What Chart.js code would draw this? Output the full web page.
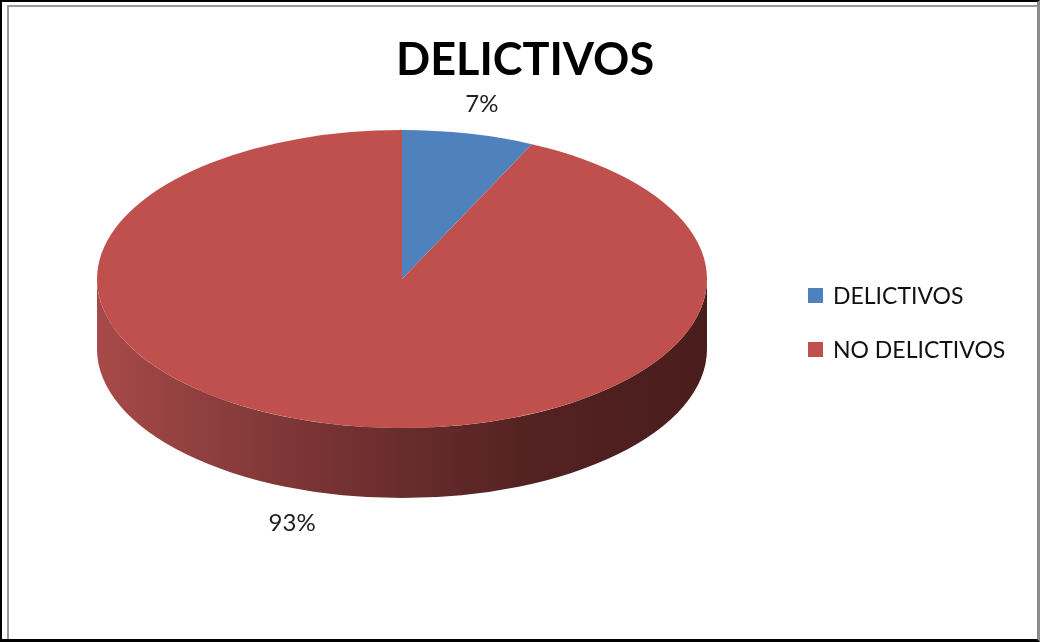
<!DOCTYPE html>
<html>
<head>
<meta charset="utf-8">
<script src="https://cdn.jsdelivr.net/npm/chart.js@4"></script>
<style>
    body { margin: 0; background: #fff; }
    #wrap { position: relative; width: 1040px; height: 642px; overflow: hidden; }
    #frame {
        position: absolute; left: 0; top: 0; width: 1040px; height: 642px;
        box-sizing: border-box; pointer-events: none;
        border-left: 2px solid #000; border-top: 2px solid #000;
        border-bottom: 3px solid #000; border-right: 3px solid #8c8c8c;
    }
    #innerFrame {
        position: absolute; left: 7px; top: 5px; right: 3px; bottom: 3px;
        pointer-events: none;
        border-left: 2px solid #9a9a9a; border-top: 2px solid #9a9a9a;
    }
</style>
</head>
<body>
<div id="wrap">
    <canvas id="pieChart" width="1040" height="642"></canvas>
    <div id="frame"></div>
    <div id="innerFrame"></div>
</div>
<script>
// Chart data
const chartTitle = 'DELICTIVOS';
const categories = ['DELICTIVOS', 'NO DELICTIVOS'];
const values = [7, 93];
const percentLabels = ['7%', '93%'];

const sliceColors = ['#4f81bd', '#c0504d'];

// Look of the fake 3D pie
const pieCenterY = 279;   // where the top face is centered on the page
const pieRadiusY = 149;   // vertical radius of the top face
const pieDepth = 70;      // thickness of the side wall

/**
 * Squashes the pie into an ellipse and draws the side wall under it
 */
const pie3dPlugin = {
    id: 'pie3d',
    beforeDatasetsDraw(chart) {
        const ctx = chart.ctx;
        const arcs = chart.getDatasetMeta(0).data;
        if (!arcs.length) return;

        const { x, y, outerRadius } = arcs[0].getProps(['x', 'y', 'outerRadius'], true);
        const sy = pieRadiusY / outerRadius;

        ctx.save();
        ctx.translate(0, pieCenterY);
        ctx.scale(1, sy);
        ctx.translate(0, -y);

        // side wall gradient, dark on the right like Excel's lighting
        const grad = ctx.createLinearGradient(x - outerRadius, 0, x + outerRadius, 0);
        grad.addColorStop(0, '#a84949');
        grad.addColorStop(0.17, '#8f3f3f');
        grad.addColorStop(0.38, '#773232');
        grad.addColorStop(0.55, '#632a2a');
        grad.addColorStop(0.72, '#532121');
        grad.addColorStop(1, '#4a1d1d');

        const depth = pieDepth / sy;
        arcs.forEach(arc => {
            const p = arc.getProps(['startAngle', 'endAngle'], true);
            const a0 = Math.max(p.startAngle, 0);
            const a1 = Math.min(p.endAngle, Math.PI);
            if (a1 <= a0) return;
            ctx.beginPath();
            ctx.arc(x, y, outerRadius, a0, a1);
            ctx.arc(x, y + depth, outerRadius, a1, a0, true);
            ctx.closePath();
            ctx.fillStyle = grad;
            ctx.fill();
        });
        // keep the transform for the top face, restored after drawing
    },
    afterDatasetsDraw(chart) {
        chart.ctx.restore();
    },
    afterDraw(chart) {
        const ctx = chart.ctx;
        const arcs = chart.getDatasetMeta(0).data;

        ctx.save();
        // title
        ctx.fillStyle = '#000';
        ctx.font = 'bold 45px Lato, "Open Sans", sans-serif';
        ctx.textAlign = 'center';
        ctx.textBaseline = 'alphabetic';
        ctx.fillText(chartTitle, 525, 75);

        // percentage labels outside each slice
        ctx.font = '24px Lato, "Open Sans", sans-serif';
        ctx.fillStyle = '#222';
        ctx.textBaseline = 'middle';
        arcs.forEach((arc, i) => {
            const p = arc.getProps(['x', 'startAngle', 'endAngle', 'outerRadius'], true);
            const mid = (p.startAngle + p.endAngle) / 2;
            let lx = p.x + p.outerRadius * 1.2 * Math.cos(mid);
            let ly = pieCenterY + pieRadiusY * 1.2 * Math.sin(mid);
            if (Math.sin(mid) > 0) {
                // labels under the pie sit below the side wall, a bit more to the outside
                ly += pieDepth;
                lx += 30 * Math.sign(Math.cos(mid));
            }
            ctx.fillText(percentLabels[i], lx, ly);
        });

        // legend
        ctx.font = '23px Lato, "Open Sans", sans-serif';
        ctx.textAlign = 'left';
        ctx.textBaseline = 'alphabetic';
        categories.forEach((name, i) => {
            const top = 288 + i * 54;
            ctx.fillStyle = sliceColors[i];
            ctx.fillRect(808, top, 15, 15);
            ctx.fillStyle = '#111';
            ctx.fillText(name, 833, top + 16);
        });
        ctx.restore();
    }
};

new Chart(document.getElementById('pieChart'), {
    type: 'pie',
    data: {
        labels: categories,
        datasets: [{
            data: values,
            backgroundColor: sliceColors,
            borderWidth: 0
        }]
    },
    options: {
        responsive: false,
        animation: false,
        devicePixelRatio: 1,
        events: [],
        layout: {
            padding: { left: 97, right: 333, top: 16, bottom: 16 }
        },
        plugins: {
            legend: { display: false },
            title: { display: false },
            tooltip: { enabled: false }
        }
    },
    plugins: [pie3dPlugin]
});
</script>
</body>
</html>
